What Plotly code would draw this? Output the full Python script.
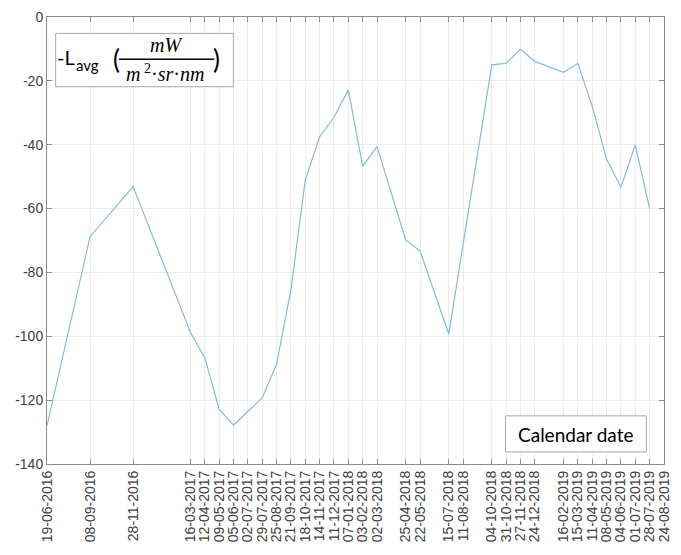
import plotly.graph_objects as go
from datetime import datetime

# ---- data ----
date_labels = [
    "19-06-2016", "08-09-2016", "28-11-2016", "16-03-2017", "12-04-2017",
    "09-05-2017", "05-06-2017", "02-07-2017", "29-07-2017", "25-08-2017",
    "21-09-2017", "18-10-2017", "14-11-2017", "11-12-2017", "07-01-2018",
    "03-02-2018", "02-03-2018", "25-04-2018", "22-05-2018", "15-07-2018",
    "11-08-2018", "04-10-2018", "31-10-2018", "27-11-2018", "24-12-2018",
    "16-02-2019", "15-03-2019", "11-04-2019", "08-05-2019", "04-06-2019",
    "01-07-2019", "28-07-2019", "24-08-2019",
]
l_avg_neg = [
    -128.0, -68.8, -53.1, -98.8, -106.7,
    -122.9, -127.8, -123.4, -119.3, -108.7,
    -85.4, -51.1, -37.5, -31.4, -22.9,
    -46.7, -40.6, -69.8, -73.3, -99.3,
    -71.0, -15.0, -14.5, -10.1, -13.9,
    -17.3, -14.5, -28.0, -44.6, -53.3,
    -40.1, -60.0,
]
y_ticks = [0, -20, -40, -60, -80, -100, -120, -140]

dates = [datetime.strptime(d, "%d-%m-%Y") for d in date_labels]

# ---- layout helpers (pixel -> paper) ----
W, H = 681, 555
ML, MR, MT, MB = 47, 14, 9, 91
PW, PH = W - ML - MR, H - MT - MB


def px(x):
    return (x - ML) / PW


def py(y):
    return (H - MB - y) / PH


fig = go.Figure()
fig.add_trace(go.Scatter(
    x=dates[:len(l_avg_neg)], y=l_avg_neg, mode="lines",
    line=dict(color="#7fbbe6", width=1.2), showlegend=False,
))

axis_common = dict(
    showline=True, linecolor="#8c8c8c", linewidth=1, mirror="ticks",
    ticks="inside", ticklen=5, tickcolor="#8c8c8c",
    showgrid=True, gridcolor="#ececec", gridwidth=1, zeroline=False,
    tickfont=dict(family="Liberation Sans, Arial", size=14, color="#404040"),
)

fig.update_xaxes(
    type="date", range=[dates[0], dates[-1]],
    tickvals=dates, ticktext=date_labels, tickangle=-90,
    **axis_common,
)
fig.update_yaxes(
    range=[-140, 0], tickvals=y_ticks, ticktext=[str(v) for v in y_ticks],
    **axis_common,
)

shapes = [
    # legend-like box top-left
    dict(type="rect", xref="paper", yref="paper",
         x0=px(55.7), x1=px(234.3), y0=py(80), y1=py(25.7),
         line=dict(color="#a6a6a6", width=1), fillcolor="white", layer="above"),
    # fraction bar
    dict(type="line", xref="paper", yref="paper",
         x0=px(119.3), x1=px(215), y0=py(52), y1=py(52),
         line=dict(color="black", width=1.6), layer="above"),
    # calendar date box
    dict(type="rect", xref="paper", yref="paper",
         x0=px(507.7), x1=px(649.3), y0=py(451.7), y1=py(415),
         line=dict(color="#a6a6a6", width=1), fillcolor="white", layer="above"),
]

calib = "Lato, Open Sans, sans-serif"
serif = "Liberation Serif, DejaVu Serif, serif"
annotations = [
    dict(text="-L", x=px(55.5), y=py(50), xanchor="left", yanchor="middle",
         font=dict(family=calib, size=20, color="black")),
    dict(text="avg", x=px(74.5), y=py(58), xanchor="left", yanchor="middle",
         font=dict(family=calib, size=15, color="black")),
    dict(text="(", x=px(111), y=py(52), xanchor="left", yanchor="middle",
         font=dict(family=calib, size=26, color="black")),
    dict(text=")", x=px(212), y=py(52), xanchor="left", yanchor="middle",
         font=dict(family=calib, size=26, color="black")),
    dict(text="<i>mW</i>", x=px(167), y=py(38), xanchor="center", yanchor="middle",
         font=dict(family=serif, size=20, color="black")),
    dict(text="<i>m</i><sup> 2</sup>·<i>sr</i>·<i>nm</i>", x=px(166), y=py(66),
         xanchor="center", yanchor="middle",
         font=dict(family=serif, size=20, color="black")),
    dict(text="Calendar date", x=px(578.5), y=py(433.5), xanchor="center", yanchor="middle",
         font=dict(family=calib, size=19, color="black")),
]
for a in annotations:
    a.update(xref="paper", yref="paper", showarrow=False)

fig.update_layout(
    width=W, height=H,
    margin=dict(l=ML, r=MR, t=MT, b=MB, pad=0),
    paper_bgcolor="white", plot_bgcolor="white",
    shapes=shapes, annotations=annotations,
)

fig.write_html("out.html")
